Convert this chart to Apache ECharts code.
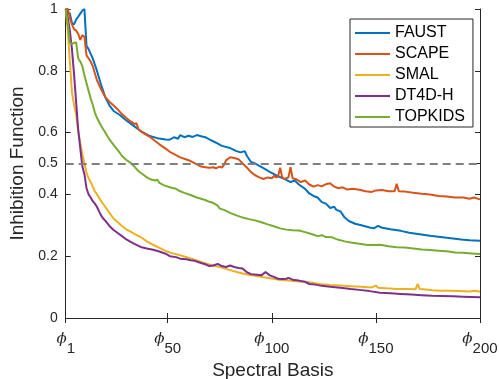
<!DOCTYPE html>
<html>
<head>
<meta charset="utf-8">
<script src="https://cdn.jsdelivr.net/npm/echarts@6/dist/echarts.min.js"></script>
<style>
  html, body { margin: 0; padding: 0; background: #fff; }
  #chart { width: 499px; height: 379px; }
</style>
</head>
<body>
<div id="chart"></div>
<script>
const seriesNames = ['FAUST', 'SCAPE', 'SMAL', 'DT4D-H', 'TOPKIDS'];
const seriesColors = ['#0072BD', '#D95319', '#EDB120', '#7E2F8E', '#77AC30'];
const xTicks = [1, 50, 100, 150, 200];
const yTicks = [0, 0.2, 0.4, 0.5, 0.6, 0.8, 1];
const threshold = 0.5;

const faustX = [1, 2, 3, 4, 5, 6, 7, 8, 9, 10, 11, 12, 13, 14, 16, 18, 20, 22, 24, 27, 30, 33, 37, 41, 45, 49, 51, 53, 55, 56, 58, 60, 62, 64, 66, 68, 70, 73, 76, 80, 83, 85, 87, 88, 90, 92, 94, 96, 99, 102, 104, 106, 109, 111, 113, 116, 118, 120, 122, 124, 126, 128, 130, 131, 133, 135, 137, 140, 143, 147, 149, 151, 153, 157, 162, 166, 171, 176, 181, 186, 191, 195, 200];
const faustY = [1.0, 0.99, 0.985, 0.955, 0.95, 0.965, 0.975, 0.985, 0.995, 1.0, 0.88, 0.87, 0.855, 0.84, 0.8, 0.755, 0.715, 0.688, 0.67, 0.657, 0.64, 0.625, 0.605, 0.59, 0.582, 0.578, 0.577, 0.585, 0.58, 0.592, 0.585, 0.59, 0.586, 0.592, 0.588, 0.585, 0.578, 0.568, 0.557, 0.55, 0.54, 0.536, 0.54, 0.525, 0.505, 0.5, 0.492, 0.485, 0.473, 0.462, 0.456, 0.45, 0.44, 0.445, 0.432, 0.418, 0.403, 0.395, 0.39, 0.375, 0.37, 0.356, 0.36, 0.35, 0.345, 0.325, 0.314, 0.305, 0.3, 0.293, 0.29, 0.298, 0.292, 0.287, 0.282, 0.276, 0.271, 0.266, 0.262, 0.258, 0.254, 0.252, 0.25];

const scapeX = [1, 2, 3, 4, 5, 6, 7, 8, 9, 10, 11, 12, 13, 14, 16, 18, 20, 22, 24, 26, 28, 30, 32, 34, 35, 36, 38, 41, 44, 46, 49, 51, 54, 56, 59, 61, 64, 66, 68, 70, 72, 73, 75, 76, 77, 78, 80, 82, 84, 86, 88, 90, 92, 94, 96, 98, 100, 101, 102, 103, 104, 105, 106, 108, 109, 110, 112, 114, 116, 118, 120, 122, 124, 126, 128, 130, 132, 134, 136, 139, 142, 145, 148, 150, 153, 156, 159, 160, 161, 164, 168, 172, 176, 180, 184, 188, 192, 195, 197, 200];
const scapeY = [1.0, 1.0, 0.97, 0.95, 0.935, 0.93, 0.92, 0.9, 0.915, 0.91, 0.85, 0.84, 0.83, 0.815, 0.77, 0.74, 0.715, 0.7, 0.688, 0.675, 0.66, 0.648, 0.637, 0.628, 0.63, 0.61, 0.6, 0.588, 0.573, 0.562, 0.548, 0.538, 0.527, 0.52, 0.513, 0.508, 0.497, 0.49, 0.488, 0.486, 0.488, 0.484, 0.49, 0.487, 0.495, 0.51, 0.52, 0.518, 0.514, 0.5, 0.487, 0.472, 0.462, 0.455, 0.45, 0.455, 0.452, 0.46, 0.455, 0.458, 0.486, 0.455, 0.45, 0.455, 0.488, 0.452, 0.448, 0.44, 0.445, 0.432, 0.425, 0.43, 0.426, 0.433, 0.436, 0.425, 0.42, 0.423, 0.416, 0.418, 0.415, 0.41, 0.408, 0.413, 0.414, 0.41, 0.41, 0.434, 0.41, 0.409, 0.405, 0.402, 0.4, 0.395, 0.393, 0.39, 0.39, 0.386, 0.39, 0.384];

const smalX = [1, 2, 3, 4, 5, 6, 7, 8, 9, 10, 11, 12, 13, 14, 15, 16, 17, 18, 20, 22, 24, 26, 28, 30, 32, 34, 37, 40, 43, 46, 49, 52, 55, 58, 61, 64, 67, 70, 73, 76, 80, 84, 88, 92, 96, 100, 104, 108, 113, 118, 123, 128, 133, 138, 143, 148, 150, 151, 155, 160, 165, 169, 170, 171, 174, 177, 181, 185, 190, 195, 198, 200];
const smalY = [1.0, 0.93, 0.83, 0.73, 0.69, 0.66, 0.605, 0.565, 0.53, 0.5, 0.47, 0.452, 0.44, 0.425, 0.41, 0.4, 0.39, 0.378, 0.36, 0.34, 0.322, 0.31, 0.298, 0.287, 0.28, 0.272, 0.262, 0.248, 0.237, 0.227, 0.217, 0.21, 0.205, 0.199, 0.193, 0.186, 0.179, 0.173, 0.168, 0.163, 0.155, 0.147, 0.141, 0.137, 0.132, 0.128, 0.123, 0.121, 0.118, 0.116, 0.11, 0.107, 0.105, 0.103, 0.101, 0.099, 0.105, 0.098, 0.096, 0.094, 0.094, 0.093, 0.11, 0.094, 0.092, 0.09, 0.088, 0.088, 0.087, 0.086, 0.088, 0.085];

const dt4dX = [1, 2, 3, 4, 5, 6, 7, 8, 9, 10, 11, 12, 13, 14, 15, 16, 17, 18, 19, 20, 22, 24, 26, 28, 30, 32, 34, 37, 40, 43, 46, 49, 51, 54, 56, 59, 61, 63, 66, 68, 70, 72, 74, 76, 78, 80, 82, 84, 86, 88, 90, 93, 95, 97, 99, 101, 103, 105, 107, 108, 110, 113, 116, 118, 121, 124, 128, 133, 138, 142, 147, 152, 157, 162, 167, 172, 177, 182, 187, 192, 196, 200];
const dt4dY = [1.0, 0.97, 0.93, 0.87, 0.79, 0.7, 0.61, 0.55, 0.49, 0.465, 0.42, 0.4, 0.39, 0.378, 0.37, 0.36, 0.345, 0.332, 0.322, 0.315, 0.298, 0.285, 0.275, 0.265, 0.255, 0.247, 0.24, 0.23, 0.225, 0.221, 0.215, 0.208, 0.2, 0.197, 0.192, 0.19, 0.187, 0.185, 0.178, 0.174, 0.168, 0.17, 0.175, 0.168, 0.165, 0.17, 0.165, 0.162, 0.16, 0.148, 0.142, 0.14, 0.138, 0.149, 0.138, 0.133, 0.127, 0.126, 0.127, 0.13, 0.124, 0.121, 0.117, 0.11, 0.108, 0.104, 0.101, 0.098, 0.094, 0.091, 0.087, 0.082, 0.08, 0.078, 0.076, 0.074, 0.072, 0.071, 0.07, 0.069, 0.068, 0.067];

const topkidsX = [1, 2, 3, 4, 5, 6, 7, 8, 9, 10, 11, 12, 13, 14, 15, 16, 17, 18, 20, 22, 24, 26, 28, 30, 32, 34, 36, 38, 40, 42, 44, 45, 46, 48, 51, 54, 56, 58, 61, 64, 66, 68, 70, 72, 74, 75, 77, 80, 83, 86, 89, 92, 95, 98, 101, 104, 107, 110, 113, 116, 119, 122, 124, 126, 129, 132, 135, 138, 142, 146, 150, 152, 156, 160, 164, 168, 172, 176, 180, 184, 188, 192, 196, 200];
const topkidsY = [1.0, 0.95, 0.89, 0.887, 0.89, 0.893, 0.84, 0.83, 0.815, 0.785, 0.76, 0.735, 0.71, 0.69, 0.665, 0.648, 0.635, 0.622, 0.6, 0.578, 0.56, 0.543, 0.525, 0.512, 0.503, 0.49, 0.475, 0.465, 0.455, 0.448, 0.445, 0.448, 0.437, 0.43, 0.423, 0.418, 0.41, 0.405, 0.398, 0.39, 0.386, 0.382, 0.376, 0.372, 0.364, 0.354, 0.35, 0.34, 0.332, 0.325, 0.32, 0.316, 0.31, 0.303, 0.297, 0.29, 0.286, 0.284, 0.283, 0.278, 0.272, 0.265, 0.268, 0.262, 0.261, 0.253, 0.248, 0.244, 0.24, 0.236, 0.236, 0.237, 0.232, 0.229, 0.228, 0.225, 0.222, 0.22, 0.218, 0.216, 0.212, 0.211, 0.209, 0.207];

const seriesX = [faustX, scapeX, smalX, dt4dX, topkidsX];
const seriesY = [faustY, scapeY, smalY, dt4dY, topkidsY];

const font = '"Liberation Sans", Arial, sans-serif';
const axisColor = '#262626';

const chart = echarts.init(document.getElementById('chart'));

const series = seriesNames.map((name, i) => ({
  name: name,
  type: 'line',
  symbol: 'none',
  data: seriesX[i].map((x, j) => [x, seriesY[i][j]]),
  lineStyle: { color: seriesColors[i], width: 2 },
  itemStyle: { color: seriesColors[i] },
  z: 3,
}));

// dashed threshold line
series.push({
  type: 'line',
  data: [],
  markLine: {
    silent: true,
    symbol: 'none',
    label: { show: false },
    lineStyle: { color: '#808080', type: [8, 5], width: 2 },
    data: [{ yAxis: threshold }],
  },
  z: 2,
});

chart.setOption({
  animation: false,
  textStyle: { fontFamily: font },
  grid: { left: 65.7, right: 19, top: 9, bottom: 61, outerBoundsMode: 'none' },
  legend: {
    data: seriesNames,
    orient: 'vertical',
    left: 350,
    top: 19,
    itemWidth: 35,
    itemHeight: 16,
    itemGap: 5,
    padding: [6, 8, 2, 4],
    itemStyle: { opacity: 0 },
    borderColor: axisColor,
    borderWidth: 1,
    backgroundColor: '#fff',
    textStyle: { fontSize: 16, color: '#000', fontFamily: font },
  },
  xAxis: [{
    type: 'value',
    min: 1,
    max: 200,
    name: 'Spectral Basis',
    nameLocation: 'middle',
    nameGap: 40,
    nameTextStyle: { fontSize: 19, color: axisColor },
    axisLine: { lineStyle: { color: axisColor, width: 1 } },
    axisTick: { inside: true, length: 5, customValues: xTicks, lineStyle: { color: axisColor } },
    axisLabel: {
      customValues: xTicks,
      margin: 14,
      formatter: (v) => '{phi|ϕ}{sub|' + v + '}',
      rich: {
        phi: { fontSize: 15, fontStyle: 'italic', fontFamily: '"DejaVu Serif", serif', color: axisColor, verticalAlign: 'top', lineHeight: 24 },
        sub: { fontSize: 15, color: axisColor, verticalAlign: 'bottom', lineHeight: 24 },
      },
    },
    splitLine: { show: false },
  }, {
    type: 'value',
    min: 1,
    max: 200,
    position: 'top',
    axisLine: { lineStyle: { color: axisColor, width: 1 } },
    axisTick: { inside: true, length: 5, customValues: xTicks, lineStyle: { color: axisColor } },
    axisLabel: { show: false },
    splitLine: { show: false },
  }],
  yAxis: [{
    type: 'value',
    min: 0,
    max: 1,
    name: 'Inhibition Function',
    nameLocation: 'middle',
    nameGap: 38,
    nameTextStyle: { fontSize: 19, color: axisColor },
    axisLine: { show: true, lineStyle: { color: axisColor, width: 1 } },
    axisTick: { show: true, inside: true, length: 5, customValues: yTicks, lineStyle: { color: axisColor } },
    axisLabel: { customValues: yTicks, margin: 8, fontSize: 14, color: axisColor, formatter: (v) => String(v) },
    splitLine: { show: false },
  }, {
    type: 'value',
    min: 0,
    max: 1,
    position: 'right',
    axisLine: { show: true, lineStyle: { color: axisColor, width: 1 } },
    axisTick: { show: true, inside: true, length: 5, customValues: yTicks, lineStyle: { color: axisColor } },
    axisLabel: { show: false },
    splitLine: { show: false },
  }],
  series: series,
});
</script>
</body>
</html>
